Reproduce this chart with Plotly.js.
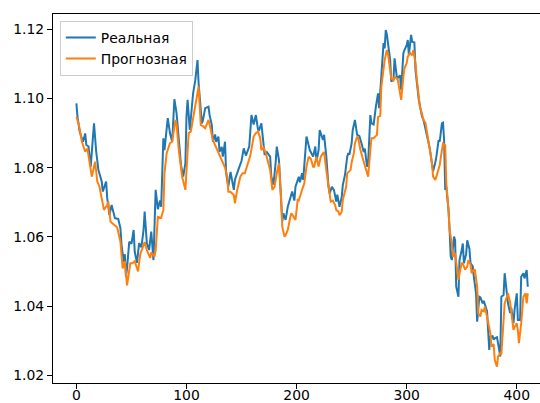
<!DOCTYPE html>
<html>
<head>
<meta charset="utf-8">
<script src="https://cdn.plot.ly/plotly-3.0.1.min.js"></script>
<style>html,body{margin:0;padding:0;background:#fff;}#chart{width:540px;height:403px;}</style>
</head>
<body>
<div id="chart"></div>
<script>
const seriesNames = ["Реальная", "Прогнозная"];
const xTicks = [0, 100, 200, 300, 400];
const yTicks = [1.02, 1.04, 1.06, 1.08, 1.10, 1.12];
const yTickText = ["1.02", "1.04", "1.06", "1.08", "1.10", "1.12"];

const realIdx = [0,1,3,6,8,9,11,13,16,18,20,23,24,27,28,30,32,34,35,38,40,41,43,44,45,46,48,50,52,53,55,57,59,61,62,64,66,68,70,72,74,76,77,79,80,83,85,87,88,89,91,93,95,97,99,100,101,103,105,106,108,110,111,113,114,115,117,120,121,123,124,126,127,129,130,132,133,135,136,138,140,143,144,147,150,152,154,157,159,161,163,165,166,168,170,171,173,176,177,179,181,182,184,186,187,188,190,192,194,196,198,199,202,203,205,206,209,210,212,215,217,218,220,221,224,225,227,229,230,232,234,236,237,239,241,242,244,246,247,248,250,251,253,255,257,259,261,262,264,265,267,268,270,272,274,275,276,278,279,280,281,282,283,285,286,288,289,291,292,294,295,297,298,300,301,302,304,305,307,308,311,312,314,315,317,318,320,321,323,324,326,327,329,330,332,333,334,335,336,338,339,340,341,343,344,345,347,348,350,351,352,354,355,357,358,360,361,363,364,366,367,369,370,372,373,375,376,378,379,380,382,383,385,386,388,389,391,392,394,395,397,398,400,401,403,404,406,407,409,410];
const realVal = [1.0986,1.0947,1.0904,1.0875,1.0899,1.0866,1.0861,1.0803,1.0928,1.0846,1.0793,1.0760,1.0731,1.0760,1.0712,1.0663,1.0692,1.0668,1.0654,1.0652,1.0625,1.0577,1.0528,1.0550,1.0485,1.0509,1.0586,1.0580,1.0620,1.0557,1.0525,1.0582,1.0570,1.0620,1.0673,1.0582,1.0562,1.0615,1.0533,1.0736,1.0680,1.0705,1.0687,1.0885,1.0851,1.0943,1.0900,1.0875,1.0940,1.0998,1.0957,1.0880,1.0808,1.0774,1.0813,1.0948,1.0996,1.0909,1.0986,1.1015,1.1053,1.1111,1.1044,1.0952,1.0928,1.0938,1.0972,1.0976,1.0952,1.0923,1.0875,1.0896,1.0875,1.0890,1.0846,1.0860,1.0832,1.0875,1.0784,1.0745,1.0788,1.0736,1.0765,1.0793,1.0820,1.0856,1.0835,1.0861,1.0952,1.0925,1.0952,1.0910,1.0909,1.0928,1.0875,1.0837,1.0845,1.0832,1.0775,1.0751,1.0815,1.0861,1.0822,1.0716,1.0644,1.0668,1.0649,1.0687,1.0707,1.0731,1.0705,1.0745,1.0774,1.0758,1.0784,1.0765,1.0890,1.0875,1.0851,1.0832,1.0861,1.0817,1.0851,1.0909,1.0880,1.0895,1.0832,1.0745,1.0725,1.0745,1.0735,1.0702,1.0722,1.0687,1.0715,1.0750,1.0780,1.0832,1.0842,1.0838,1.0870,1.0909,1.0938,1.0895,1.0892,1.0870,1.0845,1.0855,1.0803,1.0815,1.0952,1.0928,1.0925,1.0976,1.1015,1.0972,1.1025,1.1121,1.1160,1.1145,1.1198,1.1185,1.1160,1.1111,1.1049,1.1055,1.1116,1.1063,1.1060,1.1067,1.1025,1.1131,1.1140,1.1154,1.1169,1.1125,1.1184,1.1164,1.1162,1.1082,1.0996,1.0976,1.0947,1.0942,1.0909,1.0895,1.0870,1.0855,1.0803,1.0790,1.0815,1.0832,1.0880,1.0875,1.0928,1.0930,1.0880,1.0736,1.0745,1.0678,1.0620,1.0543,1.0533,1.0601,1.0590,1.0456,1.0427,1.0533,1.0562,1.0581,1.0524,1.0550,1.0590,1.0565,1.0524,1.0515,1.0485,1.0437,1.0355,1.0427,1.0425,1.0408,1.0415,1.0398,1.0385,1.0273,1.0312,1.0313,1.0303,1.0307,1.0310,1.0293,1.0254,1.0427,1.0432,1.0495,1.0440,1.0408,1.0380,1.0395,1.0350,1.0390,1.0437,1.0360,1.0360,1.0485,1.0495,1.0480,1.0504,1.0456];

const predIdx = [0,2,5,8,10,12,14,17,19,21,23,25,28,29,31,34,37,40,42,44,46,49,51,53,56,58,61,62,64,67,68,71,72,74,77,79,80,82,85,87,90,91,93,96,99,100,102,104,106,108,110,111,113,115,117,120,121,124,126,128,130,133,135,137,138,140,143,144,146,149,151,153,156,158,161,163,165,167,168,170,172,174,176,178,180,182,184,186,187,189,190,192,195,196,199,201,202,205,207,209,211,213,215,216,218,220,222,224,225,227,229,231,233,235,236,238,239,241,242,245,246,249,250,252,253,255,256,258,261,264,265,267,268,270,273,274,276,277,279,280,282,283,285,286,288,289,291,292,294,295,297,298,300,301,303,305,306,308,309,311,312,314,315,317,318,320,321,323,324,326,327,329,330,332,333,335,336,338,339,341,342,344,345,347,348,350,351,353,355,356,358,359,361,362,364,365,367,368,370,371,373,374,376,377,379,380,382,383,385,386,388,389,391,392,394,395,397,398,400,401,402,404,405,406,408,409,410];
const predVal = [1.0947,1.0928,1.0875,1.0846,1.0855,1.0817,1.0774,1.0817,1.0760,1.0745,1.0710,1.0678,1.0692,1.0702,1.0644,1.0636,1.0628,1.0586,1.0509,1.0530,1.0460,1.0524,1.0524,1.0530,1.0500,1.0550,1.0577,1.0585,1.0562,1.0539,1.0555,1.0543,1.0562,1.0658,1.0655,1.0678,1.0784,1.0842,1.0871,1.0875,1.0938,1.0925,1.0851,1.0774,1.0736,1.0784,1.0900,1.0905,1.0947,1.0980,1.1015,1.1035,1.0923,1.0920,1.0914,1.0938,1.0925,1.0880,1.0865,1.0851,1.0835,1.0817,1.0800,1.0775,1.0731,1.0730,1.0721,1.0697,1.0735,1.0775,1.0784,1.0784,1.0813,1.0835,1.0890,1.0900,1.0905,1.0885,1.0851,1.0858,1.0842,1.0815,1.0793,1.0736,1.0745,1.0784,1.0813,1.0707,1.0629,1.0601,1.0605,1.0620,1.0668,1.0665,1.0649,1.0707,1.0705,1.0736,1.0755,1.0803,1.0832,1.0825,1.0803,1.0803,1.0832,1.0803,1.0832,1.0842,1.0845,1.0793,1.0745,1.0702,1.0705,1.0692,1.0678,1.0673,1.0663,1.0672,1.0707,1.0745,1.0784,1.0793,1.0815,1.0842,1.0871,1.0890,1.0885,1.0851,1.0817,1.0784,1.0774,1.0851,1.0885,1.0885,1.0895,1.0947,1.0950,1.1034,1.1087,1.1111,1.1140,1.1130,1.1082,1.1058,1.1052,1.1063,1.1058,1.1053,1.1015,1.0996,1.1063,1.1087,1.1102,1.1121,1.1131,1.1125,1.1140,1.1102,1.1063,1.1015,1.0976,1.0955,1.0938,1.0930,1.0909,1.0880,1.0851,1.0813,1.0774,1.0765,1.0774,1.0803,1.0808,1.0851,1.0870,1.0865,1.0755,1.0678,1.0620,1.0581,1.0543,1.0553,1.0524,1.0476,1.0495,1.0524,1.0524,1.0505,1.0514,1.0533,1.0520,1.0495,1.0505,1.0504,1.0456,1.0379,1.0370,1.0389,1.0385,1.0398,1.0369,1.0350,1.0321,1.0283,1.0290,1.0244,1.0225,1.0254,1.0264,1.0260,1.0341,1.0408,1.0427,1.0437,1.0410,1.0379,1.0331,1.0340,1.0350,1.0330,1.0293,1.0350,1.0389,1.0427,1.0437,1.0408,1.0437];

const font = {family: "DejaVu Sans", size: 13.9, color: "#000"};

const traces = [
  {x: realIdx, y: realVal, type: "scatter", mode: "lines", name: seriesNames[0],
   line: {color: "#1f77b4", width: 2}},
  {x: predIdx, y: predVal, type: "scatter", mode: "lines", name: seriesNames[1],
   line: {color: "#ff7f0e", width: 2}}
];

const layout = {
  width: 540, height: 403,
  margin: {l: 53, r: 0, t: 14, b: 20, pad: 0},
  paper_bgcolor: "#fff", plot_bgcolor: "#fff",
  font: font,
  showlegend: true,
  legend: {x: 0.014, y: 0.981, xanchor: "left", yanchor: "top",
           bgcolor: "rgba(255,255,255,0.8)", bordercolor: "#cccccc", borderwidth: 1,
           font: font, tracegroupgap: 0, itemwidth: 30},
  xaxis: {range: [-21.25, 421.1], tickmode: "array", tickvals: xTicks,
          ticktext: xTicks.map(String),
          showgrid: false, zeroline: false, showline: true, mirror: true,
          linecolor: "#000", linewidth: 1.1, ticks: "outside", ticklen: 5,
          tickwidth: 1.1, tickcolor: "#000", tickfont: font, ticklabelstandoff: -6},
  yaxis: {range: [1.01777, 1.12442], tickmode: "array", tickvals: yTicks,
          ticktext: yTickText,
          showgrid: false, zeroline: false, showline: true, mirror: false,
          linecolor: "#000", linewidth: 1.1, ticks: "outside", ticklen: 5,
          tickwidth: 1.1, tickcolor: "#000", tickfont: font}
};

Plotly.newPlot("chart", traces, layout, {staticPlot: true, displayModeBar: false});
</script>
</body>
</html>
